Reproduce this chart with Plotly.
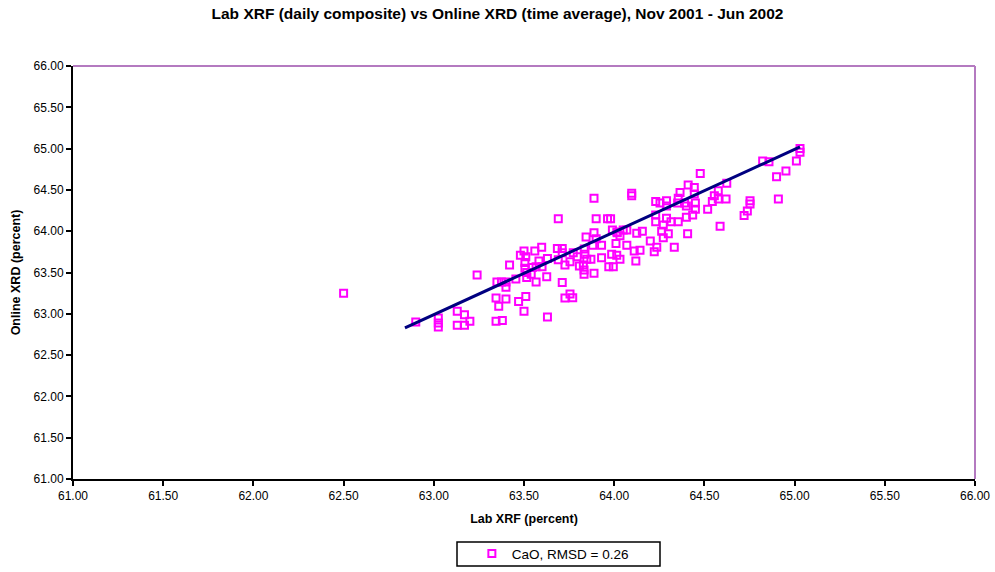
import plotly.graph_objects as go

# Daily-composite lab XRF CaO vs time-averaged online XRD CaO (percent)
lab_xrf = [
    62.90, 63.025, 63.025, 63.025, 63.13, 63.17, 63.13, 63.17, 63.20, 63.24,
    63.345, 63.36, 63.345, 63.38, 63.40, 63.35, 63.375, 63.40, 63.40, 63.42,
    63.455, 63.47, 63.50, 63.51, 63.48, 63.50, 63.51, 63.505, 63.505, 63.515,
    63.515, 63.546, 63.567, 63.56, 63.583, 63.598, 63.60, 63.567, 63.54, 63.888,
    64.097, 64.097, 63.69, 63.90, 63.963, 63.98, 63.888, 63.844, 63.90, 64.017,
    64.032, 64.07, 64.125, 63.685, 63.712, 63.712, 63.773, 63.834, 63.881, 63.93,
    64.01, 64.07, 64.111, 63.63, 63.69, 63.727, 63.755, 63.795, 63.838, 63.848,
    63.871, 63.93, 63.986, 64.014, 64.032, 64.12, 63.807, 63.829, 63.833, 63.833,
    63.888, 63.97, 63.995, 63.626, 63.712, 63.727, 63.755, 63.77, 63.63, 64.477,
    64.624, 64.41, 64.444, 64.365, 64.444, 64.577, 64.555, 64.544, 64.577, 64.62,
    64.23, 64.254, 64.29, 64.29, 64.355, 64.352, 64.39, 64.40, 64.45, 64.45,
    64.518, 64.23, 64.23, 64.29, 64.315, 64.355, 64.40, 64.435, 64.272, 64.263,
    64.272, 64.30, 64.407, 64.587, 64.156, 64.20, 64.236, 64.222, 64.333, 64.143,
    65.03, 65.03, 64.823, 64.858, 65.01, 64.952, 64.90, 64.91, 64.753, 64.753,
    64.738, 64.72, 62.50, 63.99, 64.015, 64.05,
]
online_xrd = [
    62.90, 62.95, 62.89, 62.84, 63.03, 62.99, 62.86, 62.86, 62.91, 63.47,
    63.19, 63.09, 62.91, 62.92, 63.18, 63.385, 63.385, 63.385, 63.32, 63.59,
    63.42, 63.15, 63.03, 63.21, 63.71, 63.76, 63.69, 63.62, 63.55, 63.50,
    63.44, 63.56, 63.57, 63.76, 63.64, 63.805, 63.57, 63.385, 63.48, 64.40,
    64.46, 64.43, 64.15, 64.15, 64.15, 64.15, 63.98, 63.93, 63.91, 63.98,
    63.945, 64.015, 63.975, 63.79, 63.79, 63.74, 63.74, 63.785, 63.83, 63.83,
    63.85, 63.83, 63.76, 63.67, 63.655, 63.59, 63.63, 63.69, 63.72, 63.66,
    63.66, 63.68, 63.72, 63.71, 63.66, 63.64, 63.58, 63.59, 63.53, 63.48,
    63.49, 63.57, 63.57, 63.45, 63.38, 63.19, 63.24, 63.195, 62.96, 64.70,
    64.58, 64.56, 64.53, 64.47, 64.45, 64.49, 64.43, 64.36, 64.39, 64.39,
    64.36, 64.34, 64.37, 64.305, 64.40, 64.34, 64.34, 64.305, 64.34, 64.265,
    64.265, 64.196, 64.115, 64.156, 64.115, 64.115, 64.17, 64.196, 64.075, 64.00,
    63.92, 63.97, 63.97, 64.06, 64.00, 63.88, 63.805, 63.75, 63.805, 63.77,
    65.00, 64.955, 64.85, 64.84, 64.85, 64.73, 64.66, 64.39, 64.37, 64.33,
    64.245, 64.19, 63.25, 64.015, 63.99, 64.015,
]

# One-to-one reference line
line_x = [62.84, 65.03]
line_y = [62.83, 65.02]

x_ticks = [61.0, 61.5, 62.0, 62.5, 63.0, 63.5, 64.0, 64.5, 65.0, 65.5, 66.0]
y_ticks = [61.0, 61.5, 62.0, 62.5, 63.0, 63.5, 64.0, 64.5, 65.0, 65.5, 66.0]

FONT = "Liberation Sans, Arial, sans-serif"

fig = go.Figure()
fig.add_trace(go.Scatter(
    x=lab_xrf, y=online_xrd, mode="markers", name="CaO, RMSD = 0.26",
    marker=dict(symbol="square-open", size=7, color="#FF00FF",
                line=dict(color="#FF00FF", width=2)),
))
fig.add_trace(go.Scatter(
    x=line_x, y=line_y, mode="lines", showlegend=False, hoverinfo="skip",
    line=dict(color="#000080", width=3),
))

axis_common = dict(
    showgrid=False, zeroline=False, showline=True, linecolor="black", linewidth=2,
    ticks="outside", ticklen=5, tickwidth=2, tickcolor="black",
    tickformat=".2f", tickfont=dict(family=FONT, size=12, color="black"),
)

fig.update_layout(
    width=995, height=572,
    margin=dict(l=73, r=20, t=66, b=93, autoexpand=False),
    paper_bgcolor="white", plot_bgcolor="white",
    title=dict(
        text="<b>Lab XRF (daily composite) vs Online XRD (time average), Nov 2001 - Jun 2002</b>",
        font=dict(family=FONT, size=15.5, color="black"),
        x=0.5, xanchor="center", y=1 - 14 / 572, yanchor="middle",
    ),
    xaxis=dict(range=[61, 66], tickvals=x_ticks,
               title=dict(text="<b>Lab XRF (percent)</b>", standoff=12,
                          font=dict(family=FONT, size=12.5, color="black")),
               **axis_common),
    yaxis=dict(range=[61, 66], tickvals=y_ticks,
               title=dict(text="<b>Online XRD (percent)</b>", standoff=10,
                          font=dict(family=FONT, size=12.5, color="black")),
               **axis_common),
    showlegend=True,
    legend=dict(
        orientation="h", x=0.532, xanchor="center", y=-0.181, yanchor="middle",
        bgcolor="rgba(0,0,0,0)", borderwidth=0,
        font=dict(family=FONT, size=13.5, color="black"),
        itemwidth=30,
    ),
    shapes=[
        # plot-area frame on the top and right edges
        dict(type="line", xref="paper", yref="paper", x0=0, x1=1, y0=1, y1=1,
             line=dict(color="#B47AC0", width=2)),
        dict(type="line", xref="paper", yref="paper", x0=1, x1=1, y0=0, y1=1,
             line=dict(color="#B47AC0", width=2)),
        # legend box
        dict(type="rect", xref="paper", yref="paper",
             x0=(457 - 73) / 902, x1=(660 - 73) / 902,
             y0=(479 - 542) / 413, y1=(479 - 566) / 413,
             line=dict(color="black", width=1.5), fillcolor="rgba(0,0,0,0)"),
    ],
)

fig.write_html("out.html")
